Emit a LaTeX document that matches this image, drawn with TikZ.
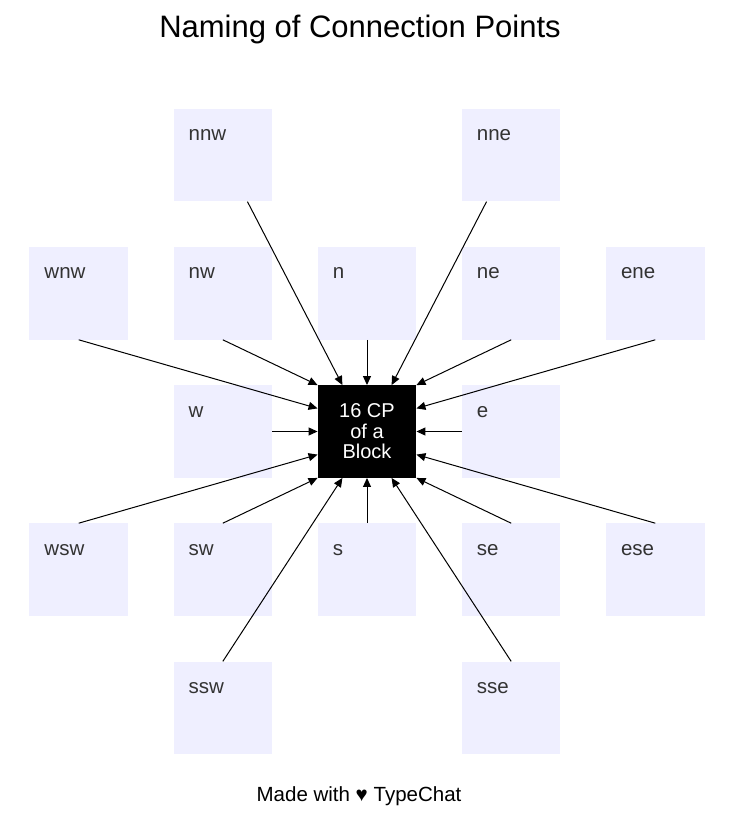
\documentclass[tikz,border=0pt]{standalone}
\usepackage{fontspec}
\setmainfont{Liberation Sans}
\usetikzlibrary{
arrows.meta,
positioning
}
\definecolor{cpfill}{HTML}{EFEFFF}
\definecolor{cptext}{HTML}{333333}
\tikzset{>={Triangle[length=9pt,width=8pt]}}

\begin{document}
\begin{tikzpicture}[x=1pt,y=1pt,node distance=45.25pt and 45.25pt,
	cp/.style={fill=cpfill,minimum width=98.5pt,minimum height=92.5pt,inner sep=0pt,
		label={[anchor=base west,inner sep=0pt,xshift=15pt,yshift=-32pt,text=cptext,font=\fontsize{20.5}{24}\selectfont]north west:#1}},
	conn/.style={->,line width=1pt}]
		% canvas and title
		\useasboundingbox (0,0) rectangle (734,-835);
		\node[anchor=base,font=\fontsize{31}{36}\selectfont] at (360,-37) (title) {Naming of Connection Points};
		
		% the block
		\node[fill=black,text=white,minimum width=98.5pt,minimum height=92.5pt,inner sep=0pt,align=center,font=\fontsize{20}{20.5}\selectfont] at (367,-431.5) (blk) {16 CP\\of a\\Block};
		
		% inner ring
		\node[cp=n,above=of blk] (n) {};
		\node[cp=s,below=of blk] (s) {};
		\node[cp=w,left=of blk] (w) {};
		\node[cp=e,right=of blk] (e) {};
		\node[cp=nw,above left=of blk] (nw) {};
		\node[cp=ne,above right=of blk] (ne) {};
		\node[cp=sw,below left=of blk] (sw) {};
		\node[cp=se,below right=of blk] (se) {};
		
		% outer ring
		\node[cp=nnw,above=of nw] (nnw) {};
		\node[cp=nne,above=of ne] (nne) {};
		\node[cp=ssw,below=of sw] (ssw) {};
		\node[cp=sse,below=of se] (sse) {};
		\node[cp=wnw,left=of nw] (wnw) {};
		\node[cp=ene,right=of ne] (ene) {};
		\node[cp=wsw,left=of sw] (wsw) {};
		\node[cp=ese,right=of se] (ese) {};
		
		% connectors
		\def\dx{24.6pt}
		\def\dy{23.1pt}
		\draw[conn] ([xshift=\dx]nnw.south) -- ([xshift=-\dx]blk.north);
		\draw[conn] ([xshift=-\dx]nne.south) -- ([xshift=\dx]blk.north);
		\draw[conn] (wnw.south) -- ([yshift=\dy]blk.west);
		\draw[conn] (nw.south) -- (blk.north west);
		\draw[conn] (n.south) -- (blk.north);
		\draw[conn] (ne.south) -- (blk.north east);
		\draw[conn] (ene.south) -- ([yshift=\dy]blk.east);
		\draw[conn] (w.east) -- (blk.west);
		\draw[conn] (e.west) -- (blk.east);
		\draw[conn] (wsw.north) -- ([yshift=-\dy]blk.west);
		\draw[conn] (sw.north) -- (blk.south west);
		\draw[conn] (s.north) -- (blk.south);
		\draw[conn] (se.north) -- (blk.south east);
		\draw[conn] (ese.north) -- ([yshift=-\dy]blk.east);
		\draw[conn] (ssw.north) -- ([xshift=-\dx]blk.south);
		\draw[conn] (sse.north) -- ([xshift=\dx]blk.south);
		
		% footer
		\node[anchor=base,font=\fontsize{20.5}{24}\selectfont] at (359,-801) (credit) {Made with ♥ TypeChat};
\end{tikzpicture}
\end{document}
